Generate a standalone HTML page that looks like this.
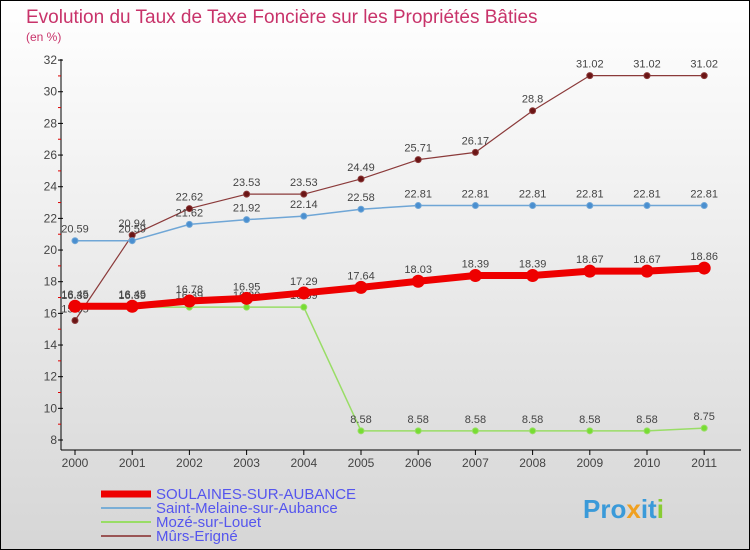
<!DOCTYPE html>
<html><head><meta charset="utf-8"><style>
body{margin:0}
#c{width:748px;height:548px;border:1px solid #000;background:linear-gradient(#fff,#d6d6d6);position:relative;overflow:hidden;font-family:"Liberation Sans",sans-serif}
</style></head><body>
<div id="c">
<svg id="s" width="748" height="548"></svg>
</div>
<script>
const years=[2000,2001,2002,2003,2004,2005,2006,2007,2008,2009,2010,2011];
const soulaines=[16.45,16.45,16.78,16.95,17.29,17.64,18.03,18.39,18.39,18.67,18.67,18.86];
const melaine=[20.59,20.59,21.62,21.92,22.14,22.58,22.81,22.81,22.81,22.81,22.81,22.81];
const moze=[16.39,16.39,16.39,16.39,16.39,8.58,8.58,8.58,8.58,8.58,8.58,8.75];
const murs=[15.55,20.94,22.62,23.53,23.53,24.49,25.71,26.17,28.8,31.02,31.02,31.02];
const yTicks=[8,10,12,14,16,18,20,22,24,26,28,30,32];
const names=["SOULAINES-SUR-AUBANCE","Saint-Melaine-sur-Aubance","Mozé-sur-Louet","Mûrs-Erigné"];
const NS="http://www.w3.org/2000/svg",s=document.getElementById('s');
const X=i=>74+i*57.2, Y=v=>439-(v-8)*15.83;
function el(t,a,p){const e=document.createElementNS(NS,t);for(const k in a)e.setAttribute(k,a[k]);(p||s).appendChild(e);return e;}
function tx(x,y,str,a,p){const e=el('text',Object.assign({x:x,y:y},a),p);e.textContent=str;return e;}
let t=tx(25,22,"Evolution du Taux de Taxe Foncière sur les Propriétés Bâties",{fill:"#c8336a","font-size":19});

t=tx(25,40,"(en %)",{fill:"#c8336a","font-size":12});

let ax=el('g',{});
el('line',{x1:60,y1:58,x2:60,y2:449,stroke:"#000"},ax);
yTicks.forEach(v=>{el('line',{x1:57,x2:62,y1:Y(v),y2:Y(v),stroke:"#000"},ax);
if(v<32)el('line',{x1:57,x2:60,y1:Y(v+1),y2:Y(v+1),stroke:"#d00"},ax);
tx(56,Y(v)+4,v,{"text-anchor":"end","font-size":12,fill:"#444"},ax);});
let xa=el('g',{});
el('line',{x1:60,y1:449,x2:740,y2:449,stroke:"#000"},xa);
years.forEach((y,i)=>{el('line',{x1:X(i),x2:X(i),y1:449,y2:454,stroke:"#000"},xa);
tx(X(i),466,y,{"text-anchor":"middle","font-size":12,fill:"#444"},xa);});
function series(d,col,w,r,fill,name,lab){const g=el('g',{});
el('polyline',{points:d.map((v,i)=>X(i)+","+Y(v)).join(" "),fill:"none",stroke:col,"stroke-width":w,"stroke-linejoin":"round"},g);
d.forEach((v,i)=>{const c=el('circle',{cx:X(i),cy:Y(v),r:r,fill:fill,stroke:col,"stroke-width":1},g);
if(lab)tx(X(i),Y(v)-8,v,{"text-anchor":"middle","font-size":11,fill:"#444"},g);});}
series(murs,"#8b3a3a",1.2,3,"#6b1515","murs",true);
series(melaine,"#6fa6d6",1.5,3,"#4a8fd0","melaine",true);
series(moze,"#99dd66",1.5,3,"#77dd33","moze",true);
series(soulaines,"#ee0000",7,6,"#ee0000","soulaines",true);
const lc=["#ee0000","#7aaed6","#99dd66","#9a5555"],lw=[7,2,2,2];
names.forEach((n,i)=>{const g=el('g',{});
const y=493+i*14;el('line',{x1:100,x2:150,y1:y,y2:y,stroke:lc[i],"stroke-width":lw[i]},g);
tx(155,y+5,n,{"font-size":15,fill:"#5555ee"},g);});
const lg=el('text',{x:582,y:517,"font-size":26,"font-weight":"bold"});

[["Pro","#3a9ad9"],["x","#f0a020"],["it","#3a9ad9"],["i","#88cc33"]].forEach(p=>{const ts=el('tspan',{fill:p[1]},lg);ts.textContent=p[0];});
</script>
</body></html>
